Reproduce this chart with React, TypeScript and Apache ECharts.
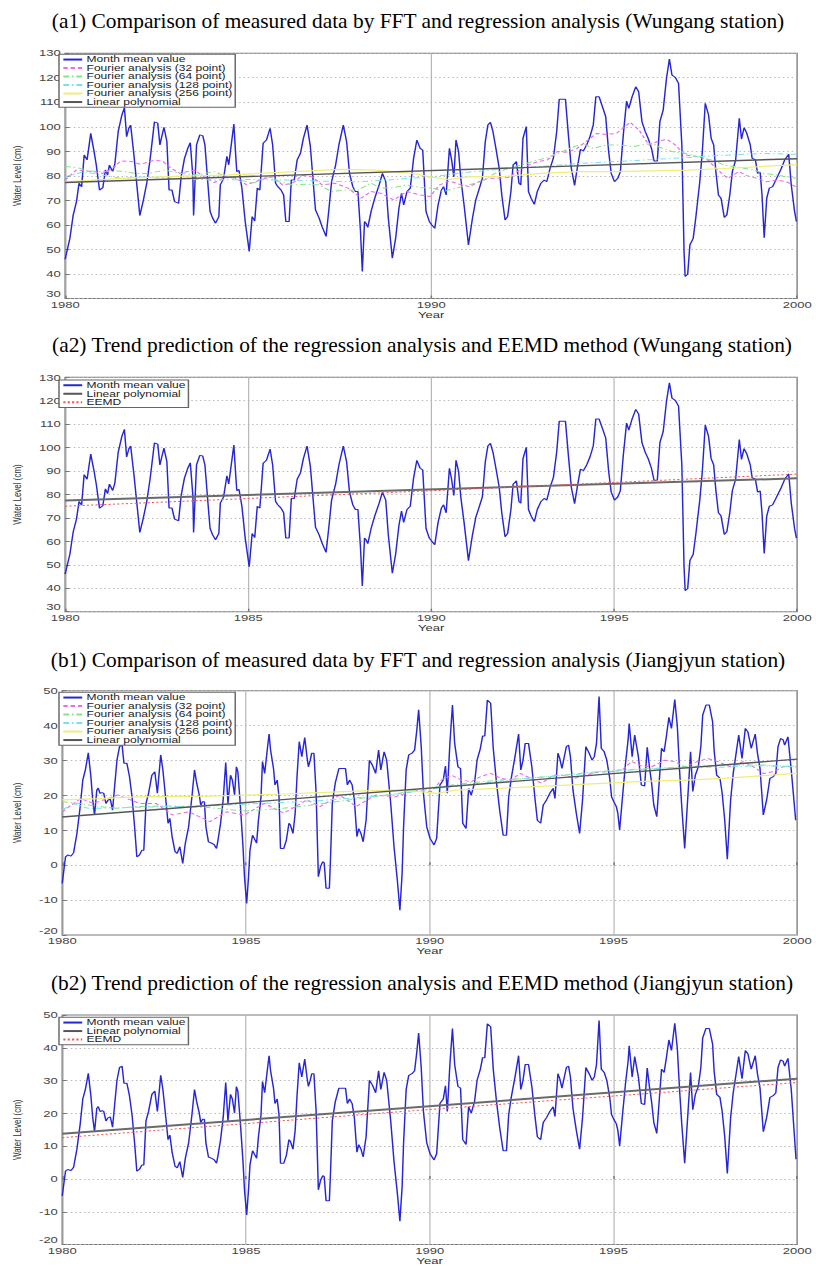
import React, { useEffect, useRef } from "react";
import * as echarts from "echarts";

// ---------- DATA ----------
const years = [1980, 1985, 1990, 1995, 2000];
const legendFFT = [
  "Month mean value",
  "Fourier analysis (32 point)",
  "Fourier analysis (64 point)",
  "Fourier analysis (128 point)",
  "Fourier analysis (256 point)",
  "Linear polynomial",
];
const legendEEMD = ["Month mean value", "Linear polynomial", "EEMD"];
const titles = [
  "(a1) Comparison of measured data by FFT and regression analysis (Wungang station)",
  "(a2) Trend prediction of the regression analysis and EEMD method (Wungang station)",
  "(b1) Comparison of measured data by FFT and regression analysis (Jiangjyun station)",
  "(b2) Trend prediction of the regression analysis and EEMD method (Jiangjyun station)",
];

const wungangMonthly: number[][] = [
  [1980.0, 46], [1980.13, 54.5], [1980.22, 64], [1980.31, 69.5], [1980.38, 77], [1980.45, 75.5], [1980.52, 88.5], [1980.6, 86.5],
  [1980.7, 97.3], [1980.79, 90], [1980.85, 84.5], [1980.94, 74.2], [1981.03, 75.2], [1981.1, 82.4], [1981.16, 80.4], [1981.21, 84.4],
  [1981.3, 81.7], [1981.36, 85], [1981.45, 98], [1981.55, 104.8], [1981.62, 107.8], [1981.68, 96], [1981.74, 99.4], [1981.79, 100.7],
  [1981.88, 88.5], [1981.97, 74.7], [1982.04, 63.8], [1982.13, 69.5], [1982.23, 77], [1982.32, 86.5], [1982.44, 102], [1982.53, 101.5],
  [1982.59, 92.6], [1982.64, 96], [1982.7, 99.8], [1982.78, 94], [1982.84, 74.2], [1982.92, 74.2], [1982.99, 69.5], [1983.1, 68.8],
  [1983.17, 79.6], [1983.26, 87], [1983.35, 91.2], [1983.42, 93.5], [1983.49, 79.6], [1983.51, 63.8], [1983.59, 92.6], [1983.68, 96.7],
  [1983.76, 96.4], [1983.82, 92.6], [1983.91, 75], [1983.96, 65.5], [1984.03, 62.8], [1984.11, 60.7], [1984.2, 63.4], [1984.24, 76.3],
  [1984.33, 79], [1984.42, 88], [1984.47, 84.5], [1984.61, 101.1], [1984.66, 88.5], [1984.69, 81.7], [1984.75, 82.2], [1984.83, 75],
  [1984.92, 61.4], [1985.03, 49.2], [1985.11, 63.4], [1985.18, 61.6], [1985.25, 75], [1985.32, 74.2], [1985.41, 93.3], [1985.5, 94.6],
  [1985.6, 99.4], [1985.67, 92.6], [1985.75, 77], [1985.81, 75.6], [1985.9, 74.2], [1985.97, 72.2], [1986.03, 61.4], [1986.12, 61.4],
  [1986.18, 78.3], [1986.26, 78.3], [1986.34, 86.5], [1986.43, 89.2], [1986.51, 95.3], [1986.61, 100.7], [1986.7, 92], [1986.84, 66.1],
  [1986.94, 62.8], [1987.02, 59.3], [1987.13, 55.3], [1987.21, 66.8], [1987.28, 77.6], [1987.39, 84.4], [1987.48, 92.6], [1987.6, 100.7],
  [1987.69, 94], [1987.77, 81], [1987.86, 75.6], [1987.93, 73.6], [1988.0, 73.6], [1988.07, 57.3], [1988.12, 41], [1988.18, 61.4],
  [1988.22, 60.7], [1988.27, 59], [1988.36, 65.5], [1988.46, 70.9], [1988.58, 76.3], [1988.67, 81], [1988.76, 77.6], [1988.83, 62.8],
  [1988.94, 46.4], [1989.03, 54.5], [1989.12, 66.8], [1989.19, 72.9], [1989.25, 68.1], [1989.34, 73.6], [1989.43, 75], [1989.52, 87],
  [1989.61, 94.6], [1989.7, 91.2], [1989.77, 90.5], [1989.86, 65.5], [1989.95, 61.4], [1990.02, 60], [1990.1, 58.6], [1990.19, 68.1],
  [1990.28, 74.2], [1990.34, 75.6], [1990.41, 72.2], [1990.5, 91.2], [1990.56, 86.5], [1990.62, 79.6], [1990.68, 94.6], [1990.75, 89.9],
  [1990.81, 79], [1990.9, 68.1], [1991.02, 51.8], [1991.13, 62.8], [1991.22, 70.2], [1991.32, 75], [1991.4, 79], [1991.48, 94],
  [1991.55, 100.7], [1991.62, 101.8], [1991.69, 98], [1991.77, 91.2], [1991.86, 83.1], [1991.93, 72.2], [1992.02, 62], [1992.09, 63.4],
  [1992.18, 73.6], [1992.24, 84.4], [1992.33, 85.8], [1992.4, 77], [1992.45, 76.3], [1992.51, 95.3], [1992.6, 100.1], [1992.66, 73.6],
  [1992.73, 70.9], [1992.82, 68.4], [1992.9, 73.6], [1993.0, 77], [1993.09, 78.3], [1993.16, 77.6], [1993.25, 83.1], [1993.34, 87.2],
  [1993.43, 98], [1993.5, 111.2], [1993.67, 111.2], [1993.75, 96.7], [1993.83, 83.1], [1993.92, 76.1], [1994.0, 83.8], [1994.08, 90.8],
  [1994.16, 90.2], [1994.25, 92.6], [1994.34, 96], [1994.43, 100.7], [1994.5, 112.2], [1994.59, 112.2], [1994.68, 108.2], [1994.77, 104.1],
  [1994.85, 89.9], [1994.92, 81], [1995.01, 77.6], [1995.1, 79], [1995.17, 81.7], [1995.25, 96.7], [1995.34, 110.5], [1995.4, 107.5],
  [1995.49, 112.2], [1995.59, 116.3], [1995.67, 114.3], [1995.76, 102.1], [1995.85, 98], [1995.93, 95.3], [1996.02, 91.2], [1996.09, 86.1],
  [1996.18, 86.1], [1996.25, 102.1], [1996.34, 106.8], [1996.43, 119.7], [1996.51, 127.6], [1996.58, 121.1], [1996.67, 120.2], [1996.76, 117.7],
  [1996.85, 92.6], [1996.91, 49.2], [1996.94, 39], [1997.01, 39.9], [1997.07, 51.8], [1997.16, 54.5], [1997.23, 62.8], [1997.34, 77.6],
  [1997.41, 89.9], [1997.49, 109.6], [1997.58, 104.8], [1997.65, 95.3], [1997.72, 92.6], [1997.78, 81.7], [1997.85, 72.2], [1997.92, 70.9],
  [1998.01, 63], [1998.08, 64.1], [1998.16, 72.2], [1998.23, 81.7], [1998.32, 86.5], [1998.42, 103.5], [1998.48, 95], [1998.55, 99.6],
  [1998.62, 97.5], [1998.72, 92.6], [1998.77, 87.2], [1998.86, 86.5], [1998.92, 81], [1998.99, 81.5], [1999.04, 72.2], [1999.1, 54.8],
  [1999.17, 70.9], [1999.24, 75], [1999.33, 75.6], [1999.44, 79], [1999.57, 83.1], [1999.66, 86.5], [1999.77, 88.8], [1999.84, 76.3],
  [1999.93, 65.5], [1999.98, 61.4],
];

const wungangFFT32: number[][] = [
  [1980.0, 78.3], [1980.31, 82.4], [1980.76, 81.7], [1981.03, 81], [1981.3, 83.1], [1981.52, 86.1], [1981.83, 85.8], [1982.06, 84.7],
  [1982.46, 86.5], [1982.68, 85.8], [1982.9, 83.1], [1983.13, 81], [1983.53, 82.4], [1983.8, 79.6], [1984.07, 77.3], [1984.33, 79],
  [1984.6, 79.6], [1984.96, 76.3], [1985.32, 78.3], [1985.67, 79.6], [1985.94, 76.3], [1986.21, 77], [1986.48, 80.1], [1986.75, 79.6],
  [1987.02, 76.3], [1987.37, 77], [1987.73, 75], [1988.09, 70.9], [1988.36, 73.6], [1988.62, 72.9], [1988.98, 70.2], [1989.34, 73.6],
  [1989.7, 72.2], [1989.97, 71.6], [1990.23, 76.3], [1990.5, 77.9], [1990.77, 76.6], [1991.04, 75.6], [1991.31, 77.6], [1991.57, 79],
  [1991.84, 79], [1992.11, 79.3], [1992.38, 82], [1992.65, 84.4], [1992.91, 85.8], [1993.18, 86.5], [1993.45, 89.9], [1993.72, 89.6],
  [1993.99, 91.2], [1994.25, 94.2], [1994.52, 97.3], [1994.79, 96.9], [1995.06, 97.3], [1995.24, 99.4], [1995.44, 101.8], [1995.68, 98.7],
  [1995.95, 92.6], [1996.22, 94.2], [1996.44, 94.9], [1996.67, 92.6], [1996.94, 88.5], [1997.29, 87.8], [1997.56, 86.5], [1997.83, 82.4],
  [1998.1, 79], [1998.41, 81.7], [1998.63, 80.1], [1998.9, 79], [1999.17, 77.6], [1999.44, 78.3], [1999.71, 77.6], [1999.98, 75.4],
];
const wungangFFT64: number[][] = [
  [1980.0, 83.8], [1980.31, 83.4], [1980.67, 82], [1981.12, 81.7], [1981.47, 82], [1981.92, 81], [1982.28, 81], [1982.73, 82.4],
  [1983.17, 81], [1983.62, 80.4], [1984.07, 81.7], [1984.42, 79.6], [1984.78, 78.3], [1985.14, 77], [1985.5, 79.6], [1985.85, 77.6],
  [1986.21, 76.3], [1986.57, 76.6], [1986.93, 76.3], [1987.28, 73.6], [1987.64, 74.2], [1988.0, 74.2], [1988.36, 77], [1988.62, 75],
  [1988.98, 75.2], [1989.34, 76.3], [1989.7, 75.2], [1990.05, 75], [1990.32, 73.6], [1990.68, 75], [1991.04, 76.3], [1991.39, 77.9],
  [1991.75, 81], [1992.11, 83.1], [1992.47, 84.4], [1992.82, 86.1], [1993.18, 87.4], [1993.54, 89.6], [1993.9, 91.9], [1994.17, 93],
  [1994.43, 91.2], [1994.79, 92.6], [1995.15, 92.6], [1995.51, 91.9], [1995.86, 92.8], [1996.04, 93.3], [1996.31, 91.2], [1996.58, 89.9],
  [1996.94, 89.2], [1997.29, 87.8], [1997.65, 86.5], [1998.01, 84.4], [1998.28, 83.8], [1998.54, 83.1], [1998.81, 82.4], [1999.08, 81],
  [1999.44, 80.4], [1999.71, 79.6], [1999.98, 79],
];
const wungangFFT128: number[][] = [
  [1980, 79.6], [1980.5, 81.7], [1981, 80.4], [1981.5, 79], [1982, 79.6], [1983, 79], [1984, 78.3], [1985, 78.5], [1986, 78.3],
  [1987, 77.8], [1988, 77.6], [1989, 78.5], [1990, 79.6], [1991, 81.5], [1992, 82.8], [1993, 83.8], [1994, 85], [1995, 85.8],
  [1996, 86.6], [1997, 87.5], [1998, 88.4], [1999, 89.1], [2000, 88.8],
];
const wungangFFT256: number[][] = [
  [1980, 77.6], [1981.5, 79], [1983, 79.8], [1984.5, 80.4], [1986, 81.5], [1987.5, 82.6], [1988.5, 82.3], [1989.5, 81], [1990, 79.5],
  [1990.5, 78.5], [1991, 79.6], [1992, 79.8], [1993, 81], [1994, 81.7], [1995, 81.7], [1996, 82], [1997, 82.3], [1998, 83],
  [1999, 83.8], [2000, 84.6],
];
const wungangLinearA1: number[][] = [[1980, 77.3], [2000, 87]];
const wungangLinearA2: number[][] = [[1980, 77.4], [2000, 86.9]];
const wungangEEMD: number[][] = [[1980, 75], [1990, 81.6], [2000, 88.7]];

const jiangjyunMonthly: number[][] = [
  [1980.0, -5.2], [1980.09, 2.4], [1980.15, 2.9], [1980.24, 2.6], [1980.31, 3.6], [1980.4, 9.1], [1980.49, 16.8], [1980.56, 24.4],
  [1980.63, 27.3], [1980.71, 32.2], [1980.78, 25.4], [1980.83, 18.7], [1980.88, 14.4], [1980.94, 21.5], [1980.98, 22.1], [1981.03, 20.6],
  [1981.09, 20.8], [1981.13, 20.6], [1981.19, 17.7], [1981.25, 18.7], [1981.31, 18.9], [1981.37, 15.8], [1981.43, 23], [1981.49, 30.1],
  [1981.56, 34], [1981.63, 34.4], [1981.68, 29.2], [1981.76, 29.2], [1981.83, 25.4], [1981.9, 19.6], [1981.97, 11], [1982.03, 2.4],
  [1982.1, 2.9], [1982.17, 4.3], [1982.22, 4.3], [1982.28, 17.7], [1982.35, 20.6], [1982.44, 25.8], [1982.52, 26.8], [1982.59, 20.6],
  [1982.68, 31.6], [1982.74, 27.3], [1982.82, 18.7], [1982.88, 12], [1982.93, 13.4], [1982.99, 8.2], [1983.07, 3.9], [1983.13, 3.4],
  [1983.2, 5.3], [1983.28, 0.5], [1983.35, 6.3], [1983.44, 11], [1983.53, 19.6], [1983.6, 27.3], [1983.66, 23.5], [1983.73, 20.1],
  [1983.77, 17.2], [1983.82, 18.2], [1983.87, 18.2], [1983.91, 11], [1983.98, 6.7], [1984.07, 6.3], [1984.14, 5.8], [1984.2, 4.8],
  [1984.24, 7.2], [1984.31, 12], [1984.38, 18.7], [1984.45, 29.4], [1984.51, 17.7], [1984.58, 25.8], [1984.63, 24.4], [1984.69, 20.1],
  [1984.74, 28.2], [1984.78, 26.8], [1984.85, 16.8], [1984.92, 5.3], [1984.96, -3.3], [1985.02, -11], [1985.07, -3.3], [1985.11, 4.3],
  [1985.18, 8.6], [1985.25, 7.2], [1985.29, 6.3], [1985.34, 12.9], [1985.41, 19.6], [1985.45, 29.7], [1985.51, 26.3], [1985.59, 34],
  [1985.63, 37.6], [1985.67, 33], [1985.75, 27.7], [1985.79, 23], [1985.85, 24.4], [1985.9, 19.6], [1985.94, 4.8], [1986.03, 4.8],
  [1986.1, 7.2], [1986.17, 12], [1986.21, 11.5], [1986.28, 9.1], [1986.34, 14.9], [1986.39, 25.4], [1986.45, 35.4], [1986.52, 31.1],
  [1986.6, 36.6], [1986.66, 31.1], [1986.7, 28.2], [1986.75, 30.1], [1986.79, 32.1], [1986.85, 32.1], [1986.91, 20.6], [1986.97, -3.3],
  [1987.03, -0.4], [1987.09, 1], [1987.13, 0.7], [1987.18, -6.6], [1987.27, -6.6], [1987.3, 1.5], [1987.35, 17.7], [1987.43, 23.5],
  [1987.53, 27.7], [1987.64, 27.7], [1987.71, 27.7], [1987.76, 23], [1987.82, 24.4], [1987.89, 23], [1987.95, 18.7], [1988.02, 8.2],
  [1988.07, 10.5], [1988.13, 9.1], [1988.19, 6.7], [1988.27, 12.9], [1988.36, 30.1], [1988.44, 28.7], [1988.53, 26.3], [1988.61, 33],
  [1988.67, 27.3], [1988.76, 32.5], [1988.83, 30.1], [1988.94, 17.7], [1989.03, 5.3], [1989.12, -4.3], [1989.19, -12.9], [1989.25, -2.4],
  [1989.29, 11], [1989.36, 27.3], [1989.43, 31.6], [1989.52, 32.1], [1989.59, 33], [1989.65, 38.7], [1989.7, 44.5], [1989.77, 34],
  [1989.83, 20.6], [1989.92, 11], [1990.01, 7.7], [1990.12, 5.8], [1990.19, 7.7], [1990.28, 23], [1990.37, 24.4], [1990.43, 28.4],
  [1990.48, 20.6], [1990.55, 34.9], [1990.62, 45.9], [1990.68, 34.9], [1990.77, 28.2], [1990.84, 27.7], [1990.9, 12], [1990.99, 10.5],
  [1991.06, 22], [1991.13, 20.1], [1991.22, 23.5], [1991.29, 30.1], [1991.38, 33.5], [1991.44, 37], [1991.5, 37], [1991.57, 47.3],
  [1991.66, 46.4], [1991.73, 33.5], [1991.82, 23.5], [1991.91, 15.3], [1992.0, 8.6], [1992.09, 8.6], [1992.15, 19.6], [1992.22, 24.9],
  [1992.33, 31.6], [1992.42, 37.6], [1992.48, 27.3], [1992.54, 30.1], [1992.6, 34.9], [1992.69, 34.9], [1992.78, 28.2], [1992.87, 18.7],
  [1992.93, 12.9], [1993.02, 12], [1993.09, 17.2], [1993.18, 18.7], [1993.27, 20.6], [1993.36, 22], [1993.41, 19.1], [1993.49, 32.1],
  [1993.54, 30.6], [1993.6, 27.7], [1993.72, 34], [1993.78, 34.4], [1993.83, 31.1], [1993.9, 21.5], [1993.99, 14.9], [1994.08, 9.1],
  [1994.16, 18.7], [1994.25, 34], [1994.34, 32.1], [1994.42, 30.1], [1994.48, 31.1], [1994.54, 34.9], [1994.61, 48.3], [1994.67, 33.5],
  [1994.75, 32.5], [1994.82, 30.1], [1994.9, 24.9], [1994.95, 19.6], [1995.01, 18.2], [1995.08, 16.8], [1995.12, 14.9], [1995.17, 10.1],
  [1995.24, 18.7], [1995.33, 29.2], [1995.4, 35.9], [1995.43, 40.6], [1995.51, 31.1], [1995.58, 37.3], [1995.64, 33.5], [1995.68, 31.1],
  [1995.76, 23], [1995.85, 22.7], [1995.92, 33.8], [1995.98, 28.2], [1996.04, 23.5], [1996.1, 17.2], [1996.18, 13.9], [1996.25, 24.4],
  [1996.31, 33.5], [1996.38, 32.5], [1996.44, 36.8], [1996.51, 42.4], [1996.58, 39.2], [1996.67, 47.5], [1996.74, 39.7], [1996.8, 27.3],
  [1996.86, 16.8], [1996.94, 4.8], [1997.02, 18.7], [1997.1, 32.5], [1997.16, 21.1], [1997.23, 25.8], [1997.31, 28.2], [1997.38, 34],
  [1997.43, 43], [1997.52, 45.9], [1997.61, 45.9], [1997.7, 41.1], [1997.74, 33], [1997.81, 25.8], [1997.9, 24.9], [1997.96, 20.6],
  [1998.03, 12.9], [1998.1, 1.7], [1998.19, 18.7], [1998.26, 26.3], [1998.34, 32.1], [1998.41, 37.3], [1998.5, 30.6], [1998.59, 39.2],
  [1998.66, 38.2], [1998.75, 33.5], [1998.86, 37.6], [1998.92, 32.1], [1998.99, 27.7], [1999.08, 14.4], [1999.17, 18.7], [1999.26, 24.9],
  [1999.35, 25.4], [1999.42, 26.3], [1999.48, 34], [1999.55, 36.3], [1999.62, 35.9], [1999.66, 34.4], [1999.75, 36.8], [1999.84, 27.3],
];
const jiangjyunEndB1: number[][] = [[1999.96, 12.9]];
const jiangjyunEndB2: number[][] = [[1999.97, 6]];

const jiangjyunFFT32: number[][] = [
  [1980.0, 15.3], [1980.5, 19.1], [1980.85, 17.7], [1981.52, 20.1], [1982.1, 17.7], [1982.55, 17.7], [1983.0, 14.4], [1983.44, 15.3],
  [1984.02, 12.5], [1984.47, 15.3], [1984.96, 14.4], [1985.5, 17.7], [1986.03, 14.9], [1986.66, 18.7], [1987.02, 16.8], [1987.55, 20.1],
  [1988.0, 16.8], [1988.53, 20.1], [1989.07, 19.6], [1989.6, 21.5], [1990.05, 21.1], [1990.32, 24.4], [1990.59, 25.8], [1990.86, 24.4],
  [1991.13, 23.9], [1991.39, 25.4], [1991.66, 26.3], [1991.93, 24.9], [1992.2, 24.4], [1992.47, 26.3], [1992.74, 24.9], [1993.05, 23.5],
  [1993.36, 25.8], [1993.63, 25.8], [1993.94, 24.9], [1994.25, 25.8], [1994.61, 26.8], [1994.97, 26.8], [1995.24, 27.3], [1995.5, 29.7],
  [1995.77, 28.4], [1996.04, 28.2], [1996.4, 30.1], [1996.67, 29.7], [1996.94, 28.2], [1997.29, 29.7], [1997.56, 30.6], [1997.83, 29.7],
  [1998.19, 28.2], [1998.54, 29.7], [1998.81, 28.2], [1999.08, 26.3], [1999.35, 26.8], [1999.62, 28.2], [1999.98, 28.2],
];
const jiangjyunFFT64: number[][] = [
  [1980, 18.2], [1980.5, 17.7], [1981, 16.8], [1981.5, 16.3], [1982, 16.8], [1983, 17], [1984, 16.5], [1985, 15.5], [1986, 16.3],
  [1987, 17.5], [1988, 19], [1989, 20.3], [1990, 22.2], [1991, 23.5], [1992, 24.5], [1993, 25.2], [1994, 26.2], [1995, 27.2],
  [1996, 27.7], [1997, 28.3], [1998, 28.7], [1999, 28.7], [2000, 28.2],
];
const jiangjyunFFT128: number[][] = [
  [1980, 15.8], [1980.3, 17.7], [1980.7, 16.3], [1981, 16.3], [1982, 16.6], [1983, 16.8], [1984, 17], [1985, 17.5], [1986, 18],
  [1987, 18.5], [1988, 19.3], [1989, 20.2], [1990, 21.8], [1991, 23], [1992, 24.2], [1993, 25.2], [1994, 26], [1995, 27],
  [1996, 27.6], [1997, 28.1], [1998, 28.1], [1999, 28.5], [2000, 28.3],
];
const jiangjyunFFT256: number[][] = [
  [1980, 18.7], [1981, 19.1], [1982, 19.6], [1984, 19.8], [1985, 20.1], [1986, 20.4], [1987, 20.8], [1988, 21.2], [1989, 21.5],
  [1989.8, 21], [1990.2, 20.6], [1990.7, 21.5], [1992, 22.1], [1993, 22.6], [1994, 23.1], [1995, 23.6], [1996, 24.1], [1997, 24.4],
  [1998, 24.9], [1999, 25.6], [2000, 26.3],
];
const jiangjyunLinearB1: number[][] = [[1980, 13.8], [2000, 30.4]];
const jiangjyunLinearB2: number[][] = [[1980, 13.8], [2000, 30.6]];
const jiangjyunEEMD: number[][] = [[1980, 12.6], [1990, 21.2], [2000, 29.4]];

// ---------- LAYOUT ----------
const S = 1.45; // horizontal stretch of the figure
const H = 1266;
const W = 816 / S;
const FONT = "'Liberation Sans', Arial, sans-serif";

const panels = [
  { top: 53.2, bottom: 298.5, ymin: 30, ymax: 130, xInt: 10, legendTop: 54.3, fft: true, titleY: 20.5, titleX: 418 },
  { top: 377.3, bottom: 611.7, ymin: 30, ymax: 130, xInt: 5, legendTop: 380, fft: false, titleY: 345, titleX: 422 },
  { top: 690.7, bottom: 935, ymin: -20, ymax: 50, xInt: 5, legendTop: 692.3, fft: true, titleY: 660, titleX: 418 },
  { top: 1015, bottom: 1249, ymin: -20, ymax: 50, xInt: 5, legendTop: 1017.3, fft: false, titleY: 982.5, titleX: 422 },
];

const styles: Record<string, any> = {
  blue: { color: "#2626d6", width: 1 },
  m32: { color: "#ec6aec", width: 1, type: [3, 2] },
  g64: { color: "#86e386", width: 1, type: [4, 2, 1, 2] },
  c128: { color: "#74e2ef", width: 1, type: [4, 2, 1, 2] },
  y256: { color: "#f0ec78", width: 1.2 },
  lin: { color: "#555555", width: 1.4 },
  lin2: { color: "#6a6a6a", width: 2 },
  eemd: { color: "#f05a5a", width: 1, type: [1.5, 1.5] },
};

function line(name: string, data: number[][], gi: number, st: any, z = 2) {
  return {
    type: "line",
    name,
    data,
    xAxisIndex: gi,
    yAxisIndex: gi,
    symbol: "none",
    silent: true,
    z,
    color: st.color,
    lineStyle: { color: st.color, width: st.width, type: st.type || "solid" },
    itemStyle: { color: st.color },
  };
}

function buildOption() {
  const grid = panels.map((p) => ({
    left: 55 / S,
    width: (801 - 55) / S,
    top: p.top,
    height: p.bottom - p.top,
    show: true,
    borderColor: "#7a7a7a",
    borderWidth: 1,
    backgroundColor: "#fff",
  }));
  const xAxis = panels.map((p, i) => ({
    type: "value",
    gridIndex: i,
    min: years[0],
    max: years[years.length - 1],
    interval: p.xInt,
    name: "Year",
    nameLocation: "middle",
    nameGap: 7,
    nameTextStyle: { fontFamily: FONT, fontSize: 9, color: "#333" },
    axisLine: { show: false },
    axisTick: { show: true, inside: true, length: 3, lineStyle: { color: "#777" } },
    axisLabel: { fontFamily: FONT, fontSize: 9, color: "#444", margin: 1.5, formatter: (v: number) => String(v) },
    splitLine: { show: true, lineStyle: { color: "#b4b4b4", width: 0.8 } },
  }));
  const yAxis = panels.map((p, i) => ({
    type: "value",
    gridIndex: i,
    min: p.ymin,
    max: p.ymax,
    interval: 10,
    name: "Water Level (cm)",
    nameLocation: "middle",
    nameGap: 21,
    nameTextStyle: { fontFamily: FONT, fontSize: 8, color: "#333" },
    axisLine: { show: false },
    axisTick: { show: true, inside: true, length: 3, lineStyle: { color: "#777" } },
    axisLabel: {
      fontFamily: FONT,
      fontSize: 9,
      color: "#444",
      margin: 3,
      formatter: (v: number) => (v === p.ymin ? `{lo|${v}}` : `${v}`),
      rich: { lo: { fontFamily: FONT, fontSize: 9, color: "#444", padding: [0, 0, 9, 0] } },
    },
    splitLine: { show: true, lineStyle: { color: "#b8b8b8", width: 1, type: [1, 2] } },
  }));
  const legend = panels.map((p) => ({
    orient: "vertical",
    left: 59 / S,
    top: p.legendTop,
    data: p.fft ? legendFFT : legendEEMD,
    itemWidth: 13,
    itemHeight: 8,
    itemGap: 0,
    padding: [1, 2, 1, 2],
    backgroundColor: "#fff",
    borderColor: "#666",
    borderWidth: 1,
    borderRadius: 0,
    selectedMode: false,
    itemStyle: { opacity: 0 },
    textStyle: { fontFamily: FONT, fontSize: 8.3, color: "#222", lineHeight: 8.5, padding: [0, 0, 0, -2] },
  }));

  const series: any[] = [];
  // a1
  series.push(line("Month mean value", wungangMonthly, 0, styles.blue, 2));
  series.push(line("Fourier analysis (32 point)", wungangFFT32, 0, styles.m32, 3));
  series.push(line("Fourier analysis (64 point)", wungangFFT64, 0, styles.g64, 3));
  series.push(line("Fourier analysis (128 point)", wungangFFT128, 0, styles.c128, 3));
  series.push(line("Fourier analysis (256 point)", wungangFFT256, 0, styles.y256, 3));
  series.push(line("Linear polynomial", wungangLinearA1, 0, styles.lin, 4));
  // a2
  series.push(line("Month mean value", wungangMonthly, 1, styles.blue, 2));
  series.push(line("Linear polynomial", wungangLinearA2, 1, styles.lin2, 3));
  series.push(line("EEMD", wungangEEMD, 1, styles.eemd, 4));
  // b1
  series.push(line("Month mean value", [...jiangjyunMonthly, ...jiangjyunEndB1], 2, styles.blue, 2));
  series.push(line("Fourier analysis (32 point)", jiangjyunFFT32, 2, styles.m32, 3));
  series.push(line("Fourier analysis (64 point)", jiangjyunFFT64, 2, styles.g64, 3));
  series.push(line("Fourier analysis (128 point)", jiangjyunFFT128, 2, styles.c128, 3));
  series.push(line("Fourier analysis (256 point)", jiangjyunFFT256, 2, styles.y256, 3));
  series.push(line("Linear polynomial", jiangjyunLinearB1, 2, styles.lin, 4));
  // b2
  series.push(line("Month mean value", [...jiangjyunMonthly, ...jiangjyunEndB2], 3, styles.blue, 2));
  series.push(line("Linear polynomial", jiangjyunLinearB2, 3, styles.lin2, 3));
  series.push(line("EEMD", jiangjyunEEMD, 3, styles.eemd, 4));

  return {
    animation: false,
    backgroundColor: "#fff",
    grid,
    xAxis,
    yAxis,
    legend,
    series,
  };
}

function buildTitleOption() {
  return {
    animation: false,
    title: panels.map((p, i) => ({
      text: titles[i],
      left: p.titleX,
      top: p.titleY - 11,
      textAlign: "center",
      padding: 0,
      textStyle: {
        fontFamily: "'Liberation Serif', 'Times New Roman', serif",
        fontSize: 21.4,
        fontWeight: "normal",
        color: "#000",
        lineHeight: 22,
      },
    })),
  };
}

export default function App() {
  const chartRef = useRef<HTMLDivElement>(null);
  const titleRef = useRef<HTMLDivElement>(null);
  useEffect(() => {
    const chart = echarts.init(chartRef.current!, null, { renderer: "svg", width: W, height: H });
    chart.setOption(buildOption());
    const t = echarts.init(titleRef.current!, null, { renderer: "svg", width: 816, height: H });
    t.setOption(buildTitleOption());
    return () => {
      chart.dispose();
      t.dispose();
    };
  }, []);
  return (
    <div style={{ position: "absolute", left: 0, top: 0, width: 816, height: H, background: "#fff", overflow: "hidden" }}>
      <div
        ref={chartRef}
        style={{
          position: "absolute",
          left: 0,
          top: 0,
          width: W,
          height: H,
          transform: `scaleX(${S})`,
          transformOrigin: "0 0",
        }}
      />
      <div ref={titleRef} style={{ position: "absolute", left: 0, top: 0, width: 816, height: H, pointerEvents: "none" }} />
    </div>
  );
}
